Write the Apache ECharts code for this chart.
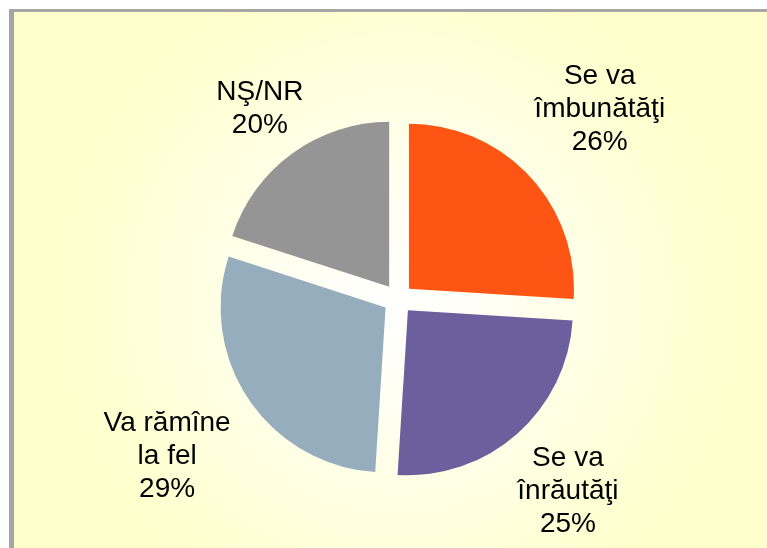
<!DOCTYPE html>
<html>
<head>
<meta charset="utf-8">
<script src="https://cdn.jsdelivr.net/npm/echarts@6/dist/echarts.min.js"></script>
<style>
html, body { margin: 0; padding: 0; background: #fff; }
#frame {
	position: absolute; left: 9px; top: 9px; width: 758px; height: 539px;
	border-left: 5px solid #a6a6a6; border-top: 3px solid #a6a6a6;
	box-sizing: border-box;
	background: radial-gradient(circle at 385px 289px, #ffffff 0%, #fffff0 25%, #ffffcc 70%);
}
#pie { position: absolute; left: 0; top: 0; width: 767px; height: 548px; }
</style>
</head>
<body>
<div id="frame"></div>
<div id="pie"></div>
<script>
// 数据
let labels = ['Se va\nîmbunătăţi', 'Se va\nînrăutăţi', 'Va rămîne\nla fel', 'NŞ/NR'];
let values = [26, 25, 29, 20];
let colors = ['#ff5514', '#6c5f9e', '#96adbe', '#959595'];

let center = [398, 299];
let radius = 165;
let offset = 15;
let fontSize = 28;
let lineHeight = 33;
let fontFamily = 'Liberation Sans, Arial, sans-serif';
let total = values.reduce((a, b) => a + b, 0);

let pieData = [];
for (let i = 0; i < labels.length; i++) {
	pieData[i] = {};
	pieData[i].name = labels[i];
	pieData[i].value = values[i];
	pieData[i].selected = true;
	pieData[i].itemStyle = { color: colors[i] };
}

// 标签：沿扇区中线方向放在外侧，多行居中
let ctx = document.createElement('canvas').getContext('2d');
ctx.font = fontSize + 'px ' + fontFamily;
let texts = [];
let before = 0;
for (let i = 0; i < labels.length; i++) {
	let text = labels[i] + '\n' + values[i] + '%';
	let lines = text.split('\n');
	let w = Math.max(...lines.map(s => ctx.measureText(s).width));
	let h = lines.length * lineHeight;
	let mid = (before + values[i] / 2) / total * Math.PI * 2;
	before += values[i];
	let dx = Math.sin(mid), dy = -Math.cos(mid);
	let d = radius + 5 + 1.6 * Math.abs(dx) * w / 2 + 0.9 * Math.abs(dy) * h / 2;
	texts.push({
		type: 'text',
		x: center[0] + dx * d,
		y: center[1] + dy * d,
		silent: true,
		style: {
			text: text,
			fontSize: fontSize,
			fontFamily: fontFamily,
			lineHeight: lineHeight,
			fill: '#000',
			align: 'center',
			verticalAlign: 'middle'
		}
	});
}

let myChart = echarts.init(document.getElementById('pie'));
myChart.setOption({
	backgroundColor: 'transparent',
	animation: false,
	graphic: texts,
	series: [{
		type: 'pie',
		center: center,
		radius: radius,
		startAngle: 90,
		clockwise: true,
		selectedMode: 'multiple',
		selectedOffset: offset,
		label: { show: false },
		labelLine: { show: false },
		emphasis: { disabled: true },
		data: pieData
	}]
});
</script>
</body>
</html>
